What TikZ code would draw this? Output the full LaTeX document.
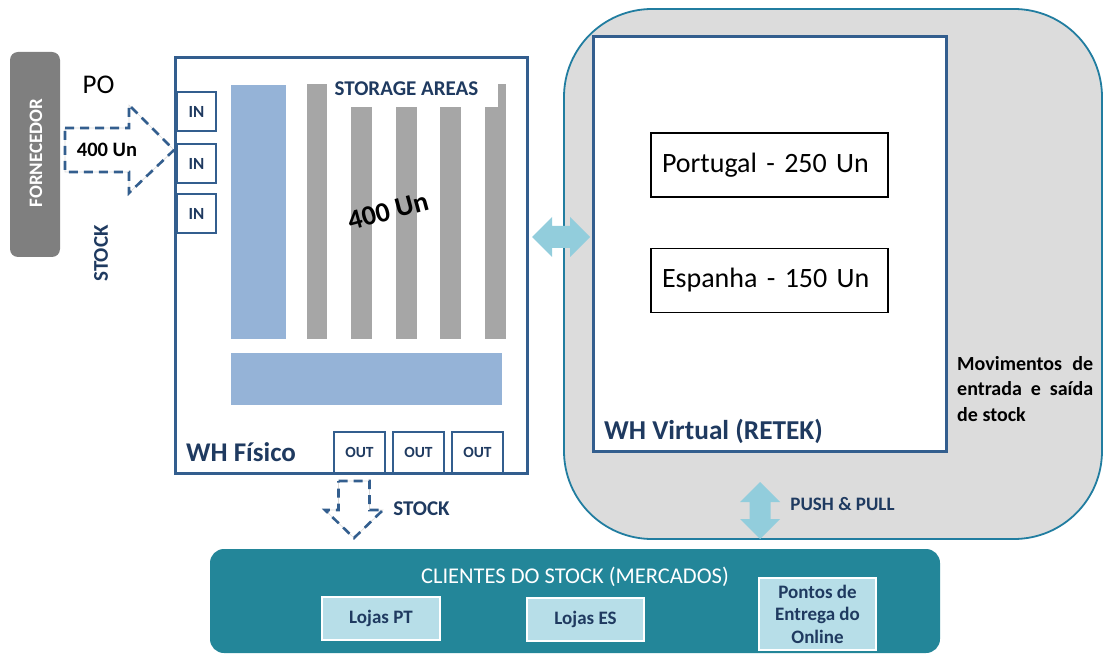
\documentclass[tikz,border=0pt]{standalone}
\usepackage{fontspec}
\setmainfont{Carlito}
\definecolor{dblue}{HTML}{1F3A60}
\definecolor{bblue}{HTML}{335E8E}
\definecolor{lblue}{HTML}{95B3D7}
\definecolor{barc}{HTML}{A6A6A6}
\definecolor{forn}{HTML}{7F7F7F}
\definecolor{vgrey}{HTML}{DCDCDC}
\definecolor{vedge}{HTML}{217DA0}
\definecolor{tealc}{HTML}{238699}
\definecolor{pale}{HTML}{B7DEE8}
\definecolor{arrowblue}{HTML}{92CDDC}
\begin{document}
\begin{tikzpicture}[x=1pt,y=-1pt,
  frame/.style={draw=bblue, line width=3pt, fill=white, inner sep=0pt},
  inbox/.style={draw=bblue, line width=2pt, fill=white, minimum width=39pt, minimum height=39pt, inner sep=0pt, text=dblue, font=\fontsize{17}{20}\selectfont\bfseries},
  outbox/.style={draw=bblue, line width=2pt, fill=white, minimum width=51pt, minimum height=41pt, inner sep=0pt, text=dblue, font=\fontsize{15.5}{18}\selectfont\bfseries},
  dasharrow/.style={draw=bblue, dash pattern=on 9pt off 6pt, line width=2.6pt, line join=miter, preaction={draw=black!15, solid, line width=0.6pt}},
  blockarrow/.style={fill=arrowblue, draw=none},
  storebox/.style={draw=black, line width=1.8pt, fill=white, minimum width=237pt, minimum height=64pt, text width=215pt, inner sep=11pt, align=left, font=\fontsize{28}{33}\selectfont},
  shop/.style={fill=pale, draw=white, line width=2pt, text=dblue, font=\fontsize{19}{22.5}\selectfont\bfseries, inner sep=0pt, align=center},
  lbl/.style={text=dblue, font=\fontsize{#1}{#1}\selectfont\bfseries, inner sep=0pt}
]
\useasboundingbox (0,0) rectangle (1104,655);

% virtual area
\node[fill=vgrey, draw=vedge, line width=1.8pt, rounded corners=88pt, minimum width=538pt, minimum height=530pt, inner sep=0pt] (virt) at (833,274) {};
\node[frame, minimum width=353pt, minimum height=414pt] (whv) at (769.5,244) {};
\node[lbl=27.3, anchor=west] (whvt) at (604,431) {WH Virtual (RETEK)};
\node[storebox] (pt) at (769.5,165) {Portugal - 250 Un};
\node[storebox] (es) at (769.5,280.5) {Espanha - 150 Un};
\node[anchor=west, inner sep=0pt, align=left, font=\fontsize{20}{25.5}\selectfont\bfseries] (mov) at (957,389)
  {\makebox[136pt][s]{Movimentos de}\\\makebox[136pt][s]{entrada e saída}\\de stock};

% fornecedor
\node[fill=forn, rounded corners=8pt, minimum width=50pt, minimum height=205pt, inner sep=0pt] (forn) at (35,154.5) {};
\node[rotate=90, text=white, font=\fontsize{19}{19}\selectfont\bfseries, inner sep=0pt] (fornt) at (36,153) {FORNECEDOR};
\node[inner sep=0pt, font=\fontsize{27}{27}\selectfont] (po) at (98.5,85) {PO};
\node[lbl=21, rotate=90] (stockl) at (101,253.5) {STOCK};

% physical warehouse
\node[frame, minimum width=352pt, minimum height=415pt] (whf) at (351,265.5) {};
\fill[lblue] (231,85) rectangle (286,339);
\fill[barc] (307,84) rectangle (327,339);
\fill[barc] (351,84) rectangle (372,339);
\fill[barc] (396,84) rectangle (417,339);
\fill[barc] (440,84) rectangle (461,339);
\fill[barc] (485,84) rectangle (506,339);
\fill[white] (327,83) rectangle (498,107);
\node[lbl=21] (sa) at (406.5,89) {STORAGE AREAS};
\fill[lblue] (231,353) rectangle (502,405);
\node[rotate=15, inner sep=0pt, font=\fontsize{28}{28}\selectfont\bfseries] (q) at (388,211) {400 Un};
\node[inbox] (in1) at (196.5,111.5) {IN};
\node[inbox] (in2) at (196.5,164) {IN};
\node[inbox] (in3) at (196.5,213.5) {IN};
\node[outbox] (out1) at (359.5,452.5) {OUT};
\node[outbox] (out2) at (418.5,452.5) {OUT};
\node[outbox] (out3) at (477.5,452.5) {OUT};
\node[lbl=27, anchor=west] (whft) at (186,452) {WH Físico};

% arrows
\draw[dasharrow] (65,128) -- (129,128) -- (129,105) -- (174,150) -- (129,193) -- (129,172) -- (65,172) -- cycle;
\node[inner sep=0pt, font=\fontsize{20.5}{20.5}\selectfont\bfseries] (poq) at (107,150) {400 Un};
\draw[dasharrow] (338.5,481) -- (369.5,481) -- (369.5,510) -- (383,510) -- (354,538) -- (325,510) -- (338.5,510) -- cycle;
\node[lbl=21] (stockb) at (421.5,509) {STOCK};
\fill[blockarrow] (532,237) -- (552,217) -- (552,226) -- (570,226) -- (570,217) -- (590,237) -- (570,257) -- (570,248) -- (552,248) -- (552,257) -- cycle;
\fill[blockarrow] (760,482) -- (780,502) -- (770.5,502) -- (770.5,519) -- (780,519) -- (760,539) -- (740,519) -- (749.5,519) -- (749.5,502) -- (740,502) -- cycle;
\node[lbl=19] (pp) at (842.5,504) {PUSH \& PULL};

% clients
\node[fill=tealc, rounded corners=14pt, minimum width=730pt, minimum height=104pt, inner sep=0pt] (cli) at (575,601) {};
\node[text=white, inner sep=0pt, font=\fontsize{22.5}{22.5}\selectfont] (clit) at (575,577) {CLIENTES DO STOCK (MERCADOS)};
\node[shop, minimum width=118pt, minimum height=43pt] (lpt) at (381,618.5) {Lojas PT};
\node[shop, minimum width=117pt, minimum height=43pt] (les) at (585.5,619.5) {Lojas ES};
\node[shop, minimum width=117pt, minimum height=72pt] (pe) at (817.5,614) {Pontos de\\Entrega do\\Online};
\end{tikzpicture}
\end{document}
